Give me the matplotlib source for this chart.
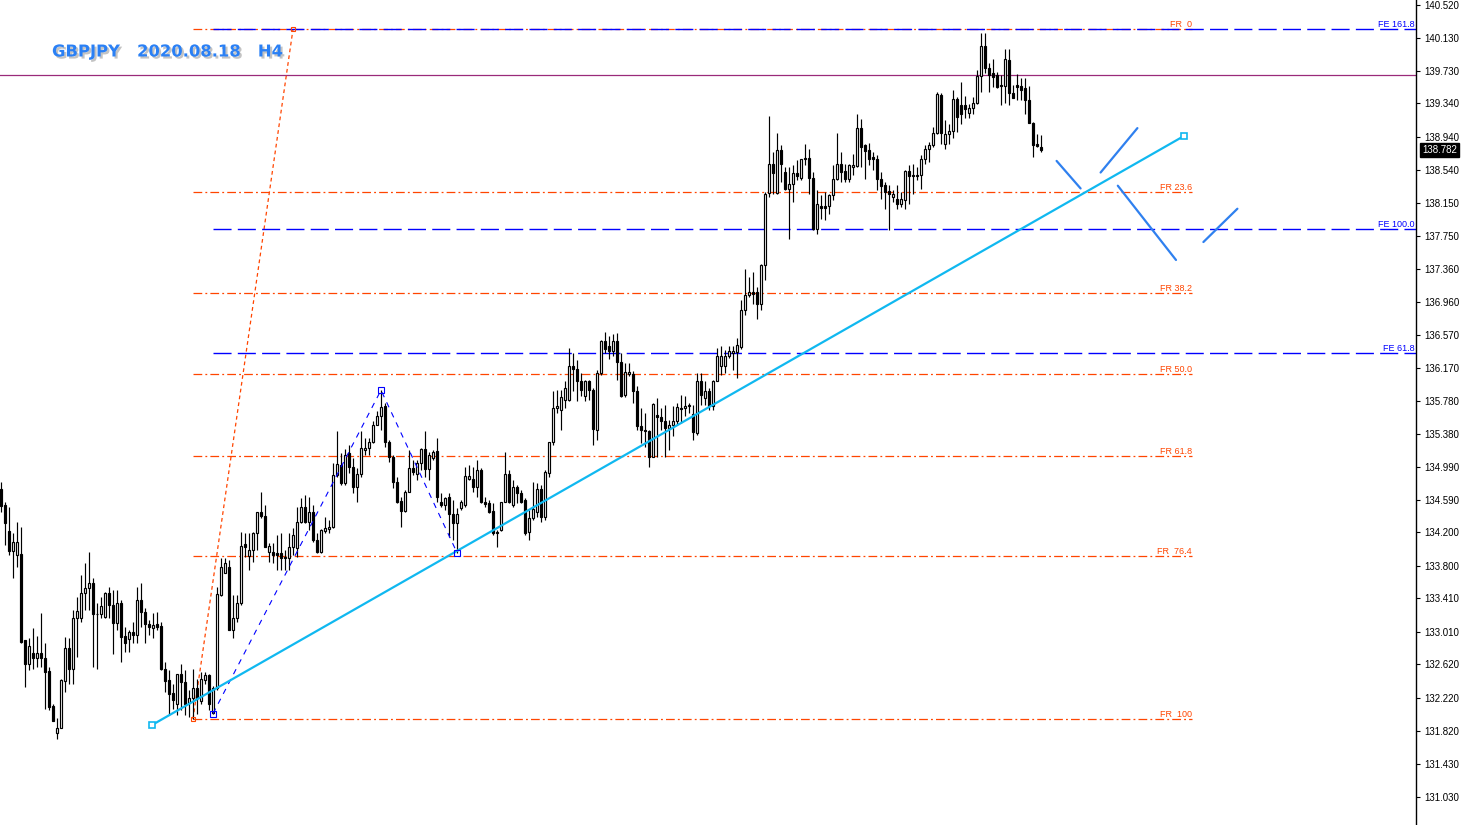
import numpy as np
import matplotlib.pyplot as plt
import matplotlib.patheffects as pe
from matplotlib.transforms import blended_transform_factory

# GBPJPY H4 candles (open, high, low, close)
opens = [134.72, 134.53, 134.22, 133.98, 133.93, 133.94, 132.91, 132.62, 132.76, 132.70,
         132.76, 132.70, 132.54, 132.12, 131.80, 131.86, 132.42, 132.82, 132.56, 133.17,
         133.17, 133.47, 133.53, 133.60, 133.22, 133.22, 133.19, 133.47, 133.33, 133.12,
         133.36, 132.96, 132.92, 133.01, 132.97, 133.39, 133.25, 133.10, 133.05, 133.10,
         133.08, 132.56, 132.43, 132.28, 132.15, 132.51, 132.41, 132.16, 132.22, 132.34,
         132.18, 132.43, 132.49, 132.04, 132.34, 133.45, 133.71, 133.79, 133.03, 133.17,
         133.35, 134.06, 133.92, 133.99, 134.19, 134.45, 134.40, 133.97, 133.97, 133.96,
         133.95, 133.91, 133.89, 134.03, 134.01, 134.33, 134.51, 134.33, 134.45, 134.11,
         133.97, 134.22, 134.24, 134.26, 134.89, 135.01, 134.79, 135.15, 134.98, 134.75,
         134.90, 135.19, 135.21, 135.28, 135.49, 135.59, 135.72, 135.29, 135.10, 134.81,
         134.58, 134.46, 134.69, 134.97, 134.90, 135.03, 135.20, 134.96, 135.09, 135.18,
         134.57, 134.53, 134.63, 134.42, 134.31, 134.49, 134.53, 134.84, 134.84, 134.74,
         134.95, 134.57, 134.55, 134.46, 134.20, 134.23, 134.57, 134.90, 134.53, 134.74,
         134.67, 134.59, 134.20, 134.37, 134.44, 134.72, 134.39, 134.91, 135.28, 135.69,
         135.67, 135.79, 135.79, 136.19, 136.16, 136.01, 135.83, 136.01, 135.91, 135.43,
         136.11, 136.50, 136.43, 136.37, 136.50, 136.24, 135.85, 136.10, 136.10, 135.89,
         135.47, 135.43, 135.42, 135.11, 135.61, 135.58, 135.54, 135.45, 135.49, 135.53,
         135.69, 135.69, 135.71, 135.62, 135.39, 136.02, 135.81, 135.90, 135.72, 136.01,
         136.19, 136.20, 136.32, 136.35, 136.36, 136.42, 136.87, 137.04, 137.08, 137.08,
         136.94, 137.40, 138.27, 138.61, 138.27, 138.78, 138.52, 138.31, 138.37, 138.51,
         138.45, 138.67, 138.69, 138.45, 137.84, 138.11, 138.11, 138.11, 138.24, 138.44,
         138.61, 138.53, 138.43, 138.58, 138.59, 139.05, 138.84, 138.78, 138.70, 138.68,
         138.43, 138.36, 138.29, 138.22, 138.20, 138.13, 138.18, 138.53, 138.48, 138.48,
         138.48, 138.68, 138.79, 138.84, 138.99, 139.44, 138.86, 138.98, 139.01, 139.39,
         139.32, 139.32, 139.23, 139.28, 139.34, 139.67, 140.03, 139.76, 139.71, 139.68,
         139.56, 139.55, 139.86, 139.46, 139.56, 139.55, 139.52, 139.38, 139.11, 138.85,
         138.82]
highs = [134.80, 134.57, 134.51, 134.19, 134.32, 134.26, 132.91, 132.93, 133.06, 132.96,
         133.23, 132.87, 132.59, 132.15, 131.98, 132.45, 132.95, 132.93, 133.27, 133.43,
         133.69, 133.83, 133.97, 133.65, 133.35, 133.43, 133.49, 133.55, 133.51, 133.51,
         133.39, 133.07, 133.03, 133.13, 133.55, 133.59, 133.29, 133.15, 133.23, 133.25,
         133.13, 132.65, 132.55, 132.39, 132.51, 132.63, 132.55, 132.31, 132.57, 132.45,
         132.53, 132.53, 132.51, 132.36, 133.55, 133.89, 133.90, 133.87, 133.45, 133.45,
         134.21, 134.19, 134.19, 134.21, 134.45, 134.69, 134.53, 134.07, 134.07, 134.17,
         134.19, 133.99, 134.19, 134.25, 134.51, 134.61, 134.65, 134.63, 134.53, 134.19,
         134.24, 134.39, 134.35, 135.03, 135.41, 135.15, 135.20, 135.25, 135.09, 134.97,
         135.41, 135.33, 135.33, 135.53, 135.65, 135.91, 135.75, 135.31, 135.13, 134.87,
         134.63, 134.71, 135.19, 135.07, 135.07, 135.21, 135.41, 135.17, 135.19, 135.33,
         134.67, 134.63, 134.67, 134.59, 134.49, 134.59, 134.99, 135.01, 134.99, 135.07,
         134.97, 134.63, 134.59, 134.55, 134.23, 134.57, 135.17, 134.95, 134.83, 134.77,
         134.71, 134.61, 134.47, 134.81, 134.79, 134.77, 134.95, 135.29, 135.89, 135.91,
         135.91, 136.01, 136.41, 136.35, 136.27, 136.11, 136.03, 136.03, 135.93, 136.15,
         136.51, 136.60, 136.55, 136.58, 136.59, 136.35, 136.23, 136.23, 136.13, 135.95,
         135.69, 135.63, 135.43, 135.75, 135.81, 135.69, 135.73, 135.55, 135.71, 135.75,
         135.85, 135.83, 135.75, 135.73, 136.11, 136.11, 136.01, 135.93, 136.03, 136.41,
         136.43, 136.39, 136.43, 136.43, 136.53, 136.98, 137.36, 137.26, 137.32, 137.14,
         137.42, 138.28, 139.19, 138.76, 138.99, 138.84, 138.58, 138.58, 138.60, 138.66,
         138.68, 138.85, 138.80, 138.52, 138.30, 138.24, 138.28, 138.26, 138.60, 138.99,
         138.76, 138.62, 138.62, 138.73, 139.21, 139.16, 138.86, 138.87, 138.76, 138.72,
         138.52, 138.40, 138.36, 138.30, 138.36, 138.28, 138.54, 138.60, 138.62, 138.58,
         138.72, 138.84, 138.88, 139.06, 139.48, 139.47, 139.14, 139.10, 139.50, 139.42,
         139.60, 139.43, 139.33, 139.42, 139.74, 140.18, 140.18, 139.82, 139.87, 139.72,
         139.68, 139.99, 139.99, 139.56, 139.69, 139.65, 139.64, 139.55, 139.12, 138.97,
         138.96]
lows = [134.45, 134.05, 133.93, 133.65, 133.79, 132.87, 132.35, 132.55, 132.57, 132.59,
        132.59, 132.08, 132.07, 131.94, 131.73, 131.86, 132.29, 132.39, 132.39, 132.71,
        133.13, 133.27, 133.27, 132.59, 132.57, 133.17, 133.17, 133.17, 132.74, 133.03,
        132.65, 132.77, 132.77, 132.87, 132.87, 133.07, 132.88, 132.97, 132.93, 133.03,
        132.55, 132.29, 132.01, 132.09, 132.01, 132.07, 132.01, 131.99, 131.96, 132.03,
        132.15, 132.39, 132.07, 132.03, 132.31, 133.44, 133.71, 133.03, 132.93, 133.13,
        133.33, 133.91, 133.75, 133.85, 133.99, 134.37, 134.03, 133.85, 133.83, 133.75,
        133.75, 133.75, 133.75, 133.93, 133.91, 134.31, 134.31, 134.23, 134.09, 133.95,
        133.95, 134.19, 134.19, 134.25, 134.87, 134.77, 134.77, 134.91, 134.67, 134.57,
        134.87, 135.13, 135.13, 135.27, 135.49, 135.43, 135.23, 135.05, 134.73, 134.55,
        134.26, 134.45, 134.68, 134.89, 134.83, 134.95, 134.87, 134.83, 135.07, 134.57,
        134.51, 134.47, 134.15, 134.11, 133.96, 134.47, 134.51, 134.83, 134.69, 134.63,
        134.55, 134.51, 134.43, 134.17, 134.03, 134.22, 134.56, 134.55, 134.51, 134.55,
        134.55, 134.17, 134.11, 134.35, 134.39, 134.33, 134.35, 134.87, 135.25, 135.63,
        135.43, 135.69, 135.77, 135.89, 135.77, 135.83, 135.77, 135.79, 135.25, 135.31,
        136.09, 136.35, 136.28, 136.31, 136.03, 135.82, 135.82, 136.07, 135.75, 135.43,
        135.27, 135.23, 134.99, 135.11, 135.11, 135.43, 135.11, 135.19, 135.35, 135.49,
        135.51, 135.59, 135.63, 135.31, 135.37, 135.73, 135.73, 135.67, 135.67, 136.01,
        136.09, 136.11, 136.29, 136.15, 136.05, 136.40, 136.80, 137.02, 136.94, 136.76,
        136.86, 137.22, 138.22, 138.26, 138.25, 138.40, 138.30, 137.72, 138.16, 138.42,
        138.42, 138.60, 138.26, 137.82, 137.78, 137.96, 137.94, 138.02, 138.18, 138.42,
        138.40, 138.40, 138.40, 138.48, 138.58, 138.58, 138.44, 138.60, 138.54, 138.30,
        138.20, 138.08, 137.82, 138.16, 138.08, 138.10, 138.08, 138.14, 138.26, 138.42,
        138.32, 138.62, 138.64, 138.82, 138.98, 138.86, 138.79, 138.85, 138.93, 139.00,
        139.10, 139.17, 139.17, 139.22, 139.33, 139.48, 139.70, 139.48, 139.54, 139.52,
        139.32, 139.34, 139.32, 139.41, 139.38, 139.38, 139.22, 139.11, 138.70, 138.82,
        138.76]
closes = [134.52, 134.31, 133.98, 134.08, 134.08, 132.89, 132.63, 132.84, 132.70, 132.76,
          132.70, 132.53, 132.11, 131.94, 131.86, 132.43, 132.82, 132.56, 133.17, 133.26,
          133.47, 133.54, 133.60, 133.22, 133.22, 133.32, 133.47, 133.33, 133.12, 133.36,
          132.95, 132.88, 133.01, 132.97, 133.39, 133.25, 133.10, 133.07, 133.09, 133.07,
          132.56, 132.42, 132.27, 132.19, 132.51, 132.41, 132.15, 132.22, 132.34, 132.22,
          132.44, 132.49, 132.15, 132.34, 133.46, 133.79, 133.83, 133.03, 133.17, 133.35,
          134.04, 134.02, 133.99, 134.19, 134.44, 134.40, 134.03, 134.04, 133.93, 133.93,
          133.89, 133.89, 134.03, 134.17, 134.33, 134.51, 134.33, 134.45, 134.11, 133.97,
          134.23, 134.25, 134.26, 134.89, 135.02, 134.79, 135.13, 134.98, 134.75, 134.90,
          135.21, 135.21, 135.28, 135.49, 135.59, 135.70, 135.29, 135.11, 134.80, 134.57,
          134.46, 134.69, 134.97, 134.92, 135.03, 135.20, 134.96, 135.13, 135.17, 134.63,
          134.53, 134.61, 134.42, 134.31, 134.42, 134.57, 134.88, 134.88, 134.74, 134.95,
          134.57, 134.54, 134.45, 134.19, 134.19, 134.57, 134.90, 134.57, 134.74, 134.67,
          134.57, 134.19, 134.37, 134.48, 134.72, 134.39, 134.92, 135.28, 135.69, 135.72,
          135.82, 135.93, 136.19, 136.16, 136.01, 135.91, 136.01, 135.91, 135.44, 136.11,
          136.50, 136.40, 136.37, 136.50, 136.24, 135.84, 136.12, 136.12, 135.89, 135.47,
          135.43, 135.42, 135.11, 135.74, 135.58, 135.54, 135.45, 135.49, 135.53, 135.70,
          135.68, 135.72, 135.73, 135.40, 136.02, 135.85, 135.90, 135.72, 136.02, 136.31,
          136.32, 136.31, 136.37, 136.38, 136.45, 136.87, 137.04, 137.08, 137.06, 136.94,
          137.40, 138.26, 138.61, 138.51, 138.78, 138.62, 138.32, 138.37, 138.51, 138.47,
          138.67, 138.69, 138.45, 137.84, 138.14, 138.09, 138.09, 138.24, 138.44, 138.62,
          138.52, 138.43, 138.60, 138.60, 139.05, 138.82, 138.77, 138.67, 138.68, 138.43,
          138.35, 138.28, 138.25, 138.26, 138.13, 138.19, 138.53, 138.47, 138.47, 138.47,
          138.68, 138.79, 138.84, 138.99, 139.45, 138.99, 138.98, 139.01, 139.39, 139.18,
          139.21, 139.27, 139.28, 139.34, 139.67, 140.03, 139.76, 139.68, 139.66, 139.54,
          139.55, 139.87, 139.46, 139.41, 139.54, 139.50, 139.38, 139.11, 138.84, 138.83,
          138.782]

price_ticks = [131.030, 131.430, 131.820, 132.220, 132.620, 133.010, 133.410, 133.800,
               134.200, 134.590, 134.990, 135.380, 135.780, 136.170, 136.570, 136.960,
               137.360, 137.750, 138.150, 138.540, 138.940, 139.340, 139.730, 140.130, 140.520]
last_price = 138.782
hline_price = 139.678

# Fibonacci retracement (anchor bar index, price)
fib_x = [48, 73]
fib_y = [131.965, 140.229]
fib_ratios = [0.0, 23.6, 38.2, 50.0, 61.8, 76.4, 100.0]
fib_labels = ["FR  0", "FR 23.6", "FR 38.2", "FR 50.0", "FR 61.8", "FR  76.4", "FR  100"]
fib_end_x = 297.75

# Fibonacci expansion A-B-C
abc_x = [53, 95, 114]
abc_y = [132.03, 135.905, 133.958]
fe_ratios = [61.8, 100.0, 161.8]
fe_labels = ["FE 61.8", "FE 100.0", "FE 161.8"]

# trend line and hand drawn strokes
trend_x = [37.75, 295.75]
trend_y = [131.893, 138.951]
stroke_x = [[263.9, 269.9], [274.9, 284.1], [279.2, 293.75], [300.6, 309.1]]
stroke_y = [[138.652, 138.322], [138.513, 139.045], [138.355, 137.465], [137.680, 138.079]]

plt.rcParams['font.family'] = ['Liberation Sans', 'DejaVu Sans']

W, H = 1462, 825
fig = plt.figure(figsize=(W / 100, H / 100), dpi=100)
ax = fig.add_axes([0, 0, 1416 / W, 1])

x_lim = (-0.25, 353.75)
ax.set_xlim(x_lim)
ax.set_ylim(130.695, 140.58)

o = np.array(opens)
hi = np.array(highs)
lo = np.array(lows)
c = np.array(closes)
xs = np.arange(len(o))
up = c >= o

ax.vlines(xs, lo, hi, color='black', lw=0.85, zorder=3)
ax.bar(xs, np.abs(c - o), bottom=np.minimum(o, c), width=0.55,
       color=np.where(up, 'white', 'black'), edgecolor='black', linewidth=0.85, zorder=4)

# horizontal line
ax.axhline(hline_price, color='#9a2a7a', lw=0.9, zorder=2)

# fibo retracement
fr_col = '#ff4500'
top, bot = fib_y[1], fib_y[0]
for r, lab in zip(fib_ratios, fib_labels):
    lvl = top - r / 100 * (top - bot)
    ax.plot([fib_x[0], fib_end_x], [lvl, lvl], color=fr_col, lw=0.9,
            linestyle=(0, (7, 2.5, 1.5, 2.5)), zorder=2)
    ax.text(fib_end_x, lvl, lab, color=fr_col, fontsize=6.5, ha='right', va='bottom')
ax.plot(fib_x, fib_y, color=fr_col, lw=0.9, linestyle=(0, (3, 2.5)), zorder=2)
ax.plot(fib_x, fib_y, 's', color=fr_col, mfc='none', ms=3.5, mew=0.8, zorder=6)

# fibo expansion
fe_col = '#0000ff'
move = abc_y[1] - abc_y[0]
for r, lab in zip(fe_ratios, fe_labels):
    lvl = abc_y[2] + r / 100 * move
    ax.plot([abc_x[0], x_lim[1]], [lvl, lvl], color=fe_col, lw=1.0,
            linestyle=(0, (13, 4.5)), zorder=2)
    ax.text(x_lim[1] - 0.3, lvl, lab, color=fe_col, fontsize=6.5, ha='right', va='bottom')
ax.plot(abc_x, abc_y, color=fe_col, lw=0.8, linestyle=(0, (5, 5)), zorder=5)
ax.plot(abc_x, abc_y, 's', color=fe_col, mfc='none', ms=4, mew=0.8, zorder=6)

# trend line
ax.plot(trend_x, trend_y, color='#10b8f0', lw=1.6, zorder=5)
ax.plot(trend_x, trend_y, 's', color='#10b8f0', mfc='white', ms=4, mew=1.2, zorder=6)

for sx, sy in zip(stroke_x, stroke_y):
    ax.plot(sx, sy, color='#2f80ef', lw=1.6, solid_capstyle='round', zorder=5)

# price axis on the right
for s in ['left', 'top', 'bottom']:
    ax.spines[s].set_visible(False)
ax.spines['right'].set_linewidth(1.0)
ax.set_xticks([])
ax.yaxis.tick_right()
ax.set_yticks(price_ticks)
ax.set_yticklabels([f'{t:.3f}' for t in price_ticks])
ax.tick_params(axis='y', direction='out', length=3, width=0.8, pad=3, labelsize=7)

tr = blended_transform_factory(ax.transAxes, ax.transData)
ax.annotate(f'{last_price:.3f}', xy=(1.0, last_price), xycoords=tr,
            xytext=(4.5, 0), textcoords='offset points', ha='left', va='center',
            color='white', fontsize=7, annotation_clip=False,
            bbox=dict(facecolor='black', edgecolor='black', boxstyle='square,pad=0.2'))

fig.text(52 / W, 1 - 52 / H, 'GBPJPY   2020.08.18   H4', fontsize=11.8, fontweight='bold',
         color='#2a80f5', ha='left', va='center', family='DejaVu Sans',
         path_effects=[pe.SimplePatchShadow(offset=(1.5, -1.5), shadow_rgbFace='#888888', alpha=0.5),
                       pe.Normal()])

fig.savefig('out.png', dpi=100)
